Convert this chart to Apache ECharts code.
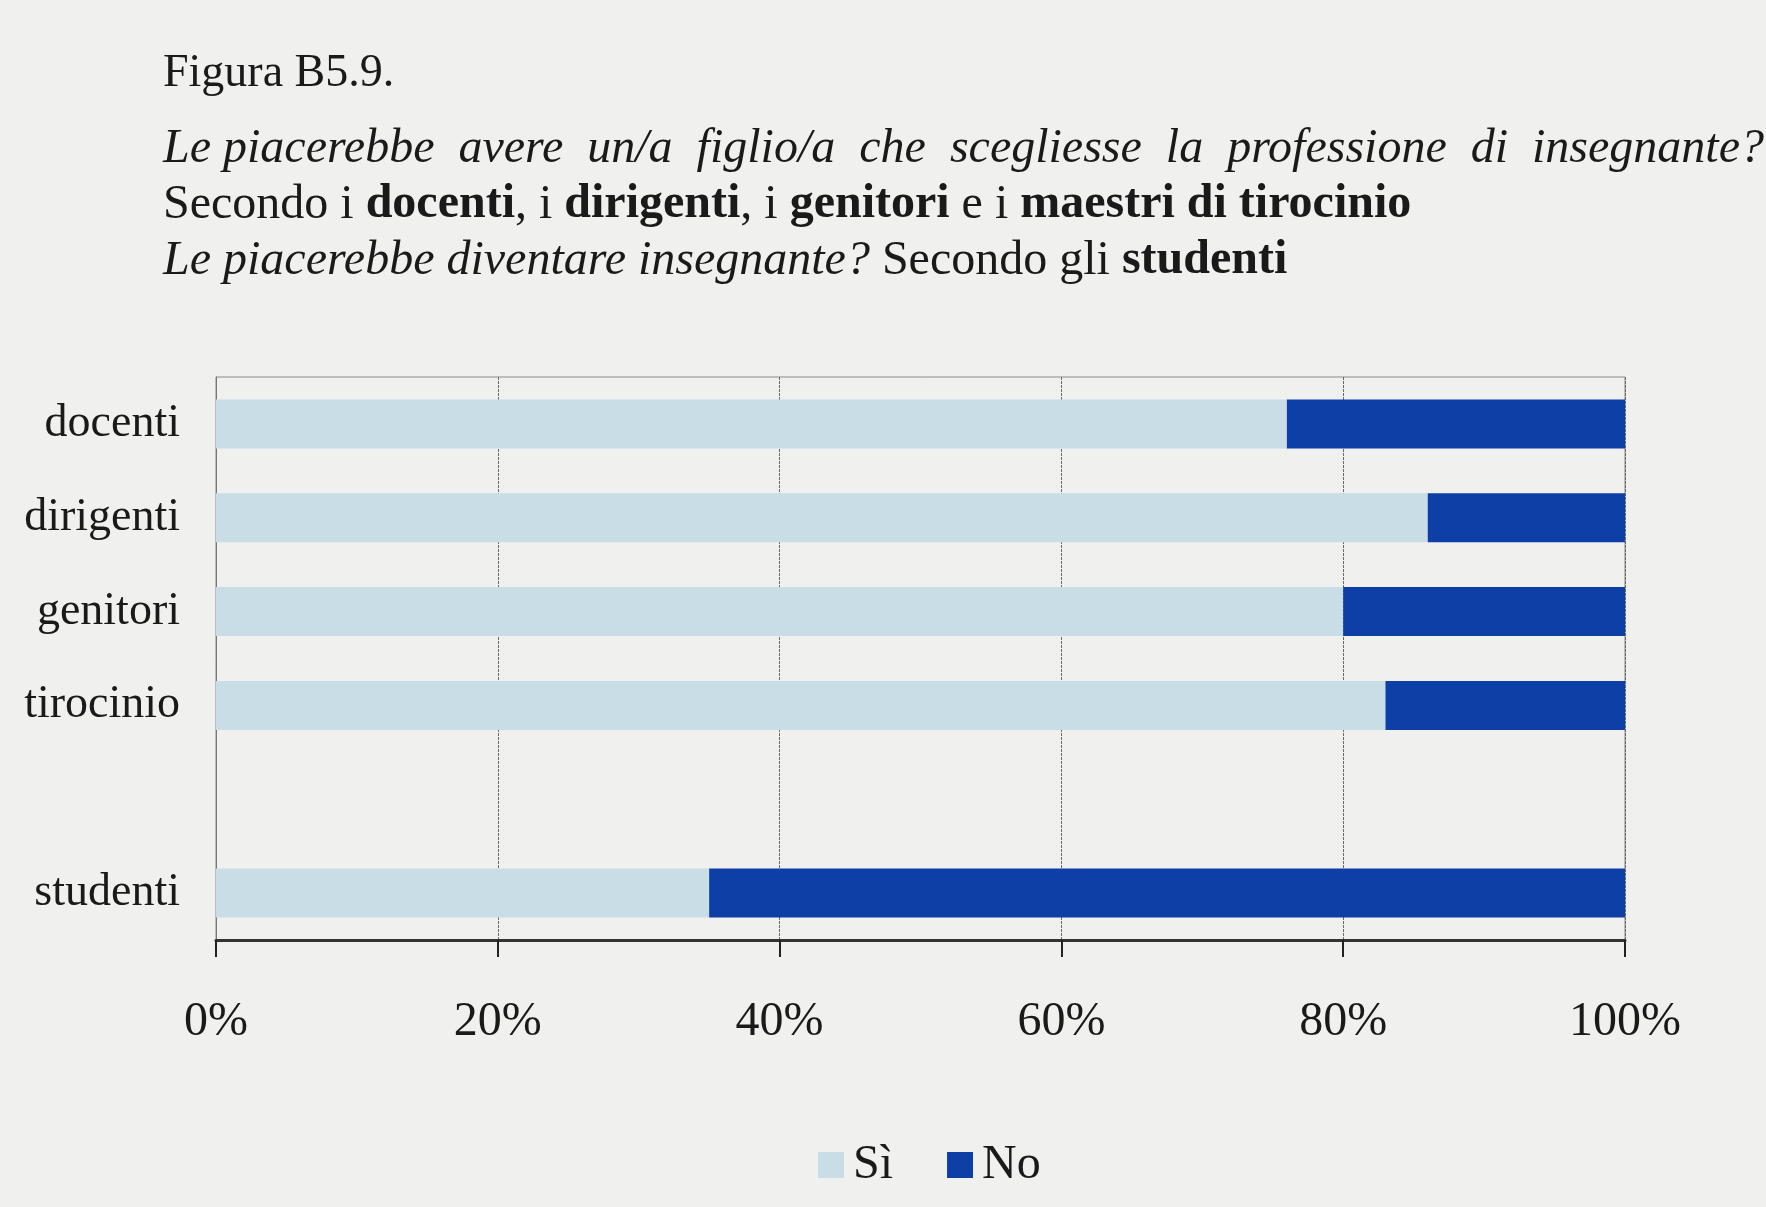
<!DOCTYPE html>
<html>
<head>
<meta charset="utf-8">
<script src="https://cdn.jsdelivr.net/npm/echarts@6/dist/echarts.min.js"></script>
<style>
html,body{margin:0;padding:0;background:#f0f0ee;}
#c{width:1766px;height:1207px;}
</style>
</head>
<body>
<div id="c"></div>
<script>
const categories = ['docenti', 'dirigenti', 'genitori', 'tirocinio', '', 'studenti'];
const siValues = [76, 86, 80, 83, null, 35];
const noValues = [24, 14, 20, 17, null, 65];
const xTicks = ['0%', '20%', '40%', '60%', '80%', '100%'];
const seriesNames = ['Sì', 'No'];

const FONT = '"Liberation Serif", "DejaVu Serif", serif';
const chart = echarts.init(document.getElementById('c'));
chart.setOption({
  backgroundColor: '#f0f0ee',
  animation: false,
  title: [
    {
      text: 'Figura B5.9.',
      left: 158, top: 46,
      textStyle: { fontFamily: FONT, fontSize: 46, fontWeight: 'normal', color: '#1a1a1a' }
    },
    {
      text: '{i|Le piacerebbe  avere  un/a  figlio/a  che  scegliesse  la  professione  di  insegnante?}\n' +
            '{n|Secondo i }{b|docenti}{n|, i }{b|dirigenti}{n|, i }{b|genitori}{n| e i }{b|maestri di tirocinio}\n' +
            '{i|Le piacerebbe diventare insegnante?}{n| Secondo gli }{b|studenti}',
      left: 158, top: 116,
      textStyle: {
        fontFamily: FONT, fontSize: 48, fontWeight: 'normal', color: '#1a1a1a', lineHeight: 56,
        rich: {
          i: { fontFamily: FONT, fontSize: 48, fontStyle: 'italic', fontWeight: 'normal', color: '#1a1a1a', lineHeight: 56 },
          n: { fontFamily: FONT, fontSize: 48, fontWeight: 'normal', color: '#1a1a1a', lineHeight: 56 },
          b: { fontFamily: FONT, fontSize: 48, fontWeight: 'bold', color: '#1a1a1a', lineHeight: 56 }
        }
      }
    }
  ],
  legend: {
    data: seriesNames,
    left: 813, top: 1136,
    itemWidth: 26, itemHeight: 26, itemGap: 54,
    icon: 'rect',
    textStyle: { fontFamily: FONT, fontSize: 48, color: '#1a1a1a', padding: [0, 0, 0, 4] }
  },
  grid: {
    left: 216, right: 141, top: 377, bottom: 267,
    show: true, borderColor: '#8a8a8a', borderWidth: 1, backgroundColor: 'transparent'
  },
  xAxis: {
    type: 'value', min: 0, max: 100, interval: 20,
    axisLine: { show: true, lineStyle: { color: '#333', width: 3 } },
    axisTick: { show: true, length: 17, lineStyle: { color: '#222', width: 2 } },
    splitLine: { show: true, lineStyle: { color: '#6a6a6a', width: 1, type: [3, 1] } },
    axisLabel: {
      margin: 58, fontFamily: FONT, fontSize: 48, color: '#1a1a1a',
      formatter: function (v) { return xTicks[Math.round(v / 20)]; }
    }
  },
  yAxis: {
    type: 'category', data: categories, inverse: true,
    axisLine: { show: true, lineStyle: { color: '#777', width: 1 } },
    axisTick: { show: false },
    axisLabel: { margin: 36, fontFamily: FONT, fontSize: 46, color: '#1a1a1a' }
  },
  series: [
    {
      name: seriesNames[0], type: 'bar', stack: 'tot', data: siValues, barWidth: 49,
      itemStyle: { color: '#c8dde6' }
    },
    {
      name: seriesNames[1], type: 'bar', stack: 'tot', data: noValues, barWidth: 49,
      itemStyle: { color: '#0d3fa6' }
    }
  ]
});
</script>
</body>
</html>
